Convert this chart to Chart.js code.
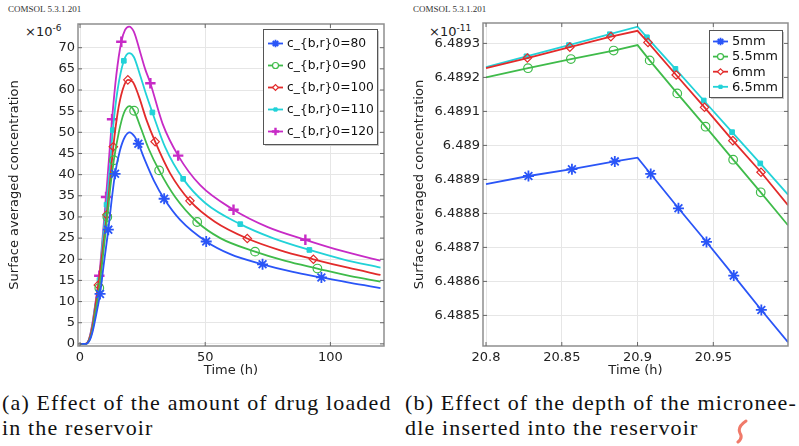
<!DOCTYPE html>
<html>
<head>
<meta charset="utf-8">
<script src="https://cdn.jsdelivr.net/npm/chart.js@4/dist/chart.umd.min.js"></script>
<style>
  body { margin: 0; background: #fff; width: 799px; height: 446px; position: relative; overflow: hidden; font-family: "DejaVu Sans", sans-serif; }
  canvas { position: absolute; top: 0; }
  #chartA { left: 0; }
  #chartB { left: 400px; }
  .comsol { position: absolute; top: 4px; font: 9px "Liberation Serif", serif; color: #333; }
  .exp { position: absolute; top: 23px; font: 13px "DejaVu Sans", sans-serif; color: #222; }
  .exp sup { font-size: 9px; vertical-align: 5px; }
  .cap { position: absolute; top: 390px; font: 22px "Liberation Serif", serif; letter-spacing: 1.15px; color: #111; line-height: 25px; white-space: nowrap; }
</style>
</head>
<body>
<div class="comsol" style="left:8px">COMSOL 5.3.1.201</div>
<div class="comsol" style="left:413px">COMSOL 5.3.1.201</div>
<div class="exp" style="left:25px">×10<sup>-6</sup></div>
<div class="exp" style="left:429px">×10<sup>-11</sup></div>
<canvas id="chartA" width="399" height="380"></canvas>
<canvas id="chartB" width="399" height="380"></canvas>
<div class="cap" style="left:2px">(a) Effect of the amount of drug loaded<br>in the reservoir</div>
<div class="cap" style="left:405px">(b) Effect of the depth of the micronee-<br>dle inserted into the reservoir</div>
<svg style="position:absolute;left:732px;top:418px" width="22" height="26"><path d="M14 3 Q5 9 8 15 Q11 20 6 24" stroke="#f07a6a" stroke-width="3" fill="none" stroke-linecap="round"/></svg>
<script>
// ---------- (a) amount of drug loaded: time (h) vs concentration (x1e-6) ----------
const labelsA = ['c_{b,r}0=80', 'c_{b,r}0=90', 'c_{b,r}0=100', 'c_{b,r}0=110', 'c_{b,r}0=120'];

const tA80 = [0, 2.5, 3, 4, 5, 6, 7, 9.6, 12.6, 16, 18, 19.8, 21.8, 26, 29.5, 40, 60, 85, 108, 120];
const vA80 = [0, 0, 0.2, 1, 2.8, 5.5, 8.5, 19.3, 33.8, 45.8, 49, 50, 49, 43.3, 38.6, 29.3, 21.2, 17, 14.4, 13.2];
const mtA80 = [8, 11.3, 14, 23.3, 33.6, 50.4, 72.9, 96.4];
const mvA80 = [11.8, 27, 40.2, 47.3, 34.3, 24.2, 18.8, 15.7];

const tA90 = [0, 2.5, 3, 4, 5, 6, 9.2, 12.2, 15.5, 17.5, 19.7, 24, 27.5, 38, 56, 82, 108, 120];
const vA90 = [0, 0, 0.2, 1.2, 3.3, 6.8, 21, 37.5, 50, 54.5, 56.2, 51.5, 46, 34.7, 25, 19.6, 16, 14.7];
const mtA90 = [7.7, 10.9, 13.5, 21.6, 31.6, 46.8, 69.9, 94.8];
const mvA90 = [13.2, 30, 43.4, 55.1, 41, 28.8, 21.8, 17.8];

const tA100 = [0, 2, 3, 4, 5, 6, 9, 12, 15, 17, 21, 23.5, 26.5, 36, 54, 80, 107, 120];
const vA100 = [0, 0, 0.3, 1.7, 4.3, 8.2, 22, 38.5, 54.5, 60, 62, 58.5, 53, 40.3, 28.8, 22.1, 18, 16.3];
const mtA100 = [7.3, 10.7, 13.3, 19.1, 30, 43.9, 66.8, 93.2];
const mvA100 = [13.9, 30.5, 46.6, 62.4, 47.8, 33.8, 24.9, 20];

const tA110 = [0, 2, 3, 4, 5, 6, 9, 11.9, 15, 19.6, 21.5, 24, 26.5, 34, 50, 77, 105, 120];
const vA110 = [0, 0, 0.3, 1.8, 4.6, 8.8, 24, 41.5, 60, 68.7, 67.8, 63.5, 58.8, 46.5, 33.3, 25, 20, 18];
const mtA110 = [7.8, 10.6, 13.1, 17.5, 28.9, 41.2, 64, 91.6];
const mvA110 = [15.1, 32.9, 50.5, 66.9, 54.7, 39, 28.3, 22.2];

const tA120 = [0, 2, 3, 4, 5, 6, 9, 11.6, 14.5, 18, 19.6, 21.5, 24, 26, 33, 48, 75, 105, 120];
const vA120 = [0, 0, 0.3, 2, 5, 9, 25, 44, 63.5, 74.2, 75, 73.8, 69, 65, 52, 37.5, 27.6, 21.9, 19.7];
const mtA120 = [7.7, 10.4, 12.8, 16.5, 28.1, 39.2, 61.3, 90];
const mvA120 = [16.1, 34.7, 53.1, 71.4, 61.6, 44.5, 31.7, 24.6];

const xTicksA = [0, 50, 100];
const yTicksA = [0, 5, 10, 15, 20, 25, 30, 35, 40, 45, 50, 55, 60, 65, 70];

// ---------- (b) depth of the microneedle: time (h) vs concentration (x1e-11) ----------
const labelsB = ['5mm', '5.5mm', '6mm', '6.5mm'];

const tB5 = [20.8, 20.9, 20.9993];
const vB5 = [6.488886, 6.488964, 6.488421];
const mtB5 = [20.828, 20.8567, 20.885, 20.9087, 20.927, 20.9455, 20.9635, 20.9817];
const mvB5 = [6.48891, 6.48893, 6.488953, 6.488916, 6.488815, 6.488716, 6.488617, 6.488516];

const tB55 = [20.8, 20.9, 20.9993];
const vB55 = [6.4892, 6.489295, 6.488765];
const mtB55 = [20.8277, 20.856, 20.8842, 20.908, 20.9262, 20.9449, 20.9631, 20.9813];
const mvB55 = [6.489227, 6.489254, 6.489279, 6.48925, 6.489153, 6.489055, 6.488958, 6.488862];

const tB6 = [20.8, 20.9, 20.9993];
const vB6 = [6.489227, 6.489337, 6.488824];
const mtB6 = [20.8273, 20.8553, 20.8824, 20.9069, 20.9255, 20.9442, 20.9629, 20.9815];
const mvB6 = [6.489257, 6.489289, 6.48932, 6.489303, 6.489207, 6.489112, 6.489014, 6.488921];

const tB65 = [20.8, 20.9, 20.9993];
const vB65 = [6.48923, 6.489349, 6.488855];
const mtB65 = [20.8267, 20.8547, 20.8817, 20.9062, 20.925, 20.9437, 20.9624, 20.981];
const mvB65 = [6.489262, 6.489295, 6.489327, 6.489318, 6.489225, 6.489132, 6.489039, 6.488947];

const xTicksB = [20.8, 20.85, 20.9, 20.95];
const xLabelsB = ['20.8', '20.85', '20.9', '20.95'];
const yTicksB = [6.4885, 6.4886, 6.4887, 6.4888, 6.4889, 6.489, 6.4891, 6.4892, 6.4893];
const yLabelsB = ['6.4885', '6.4886', '6.4887', '6.4888', '6.4889', '6.489', '6.4891', '6.4892', '6.4893'];

// ---------- styles ----------
const colors = ['#2a55f7', '#3fbb4a', '#e22b2b', '#22d2d8', '#c72bc6'];
const markers = [
  { pointStyle: 'star', radius: 5.5, borderWidth: 1.8, fill: false },
  { pointStyle: 'circle', radius: 4.3, borderWidth: 1.2, fill: false },
  { pointStyle: 'rectRot', radius: 4.2, borderWidth: 1.2, fill: false },
  { pointStyle: 'rect', radius: 3.3, borderWidth: 1, fill: true },
  { pointStyle: 'cross', radius: 5.2, borderWidth: 2.4, fill: false }
];

function pts(t, v) {
  return t.map((x, i) => ({ x: x, y: v[i] }));
}
function merged(t, v, mt, mv) {
  return pts(t, v).concat(pts(mt, mv)).sort((a, b) => a.x - b.x);
}

function buildSets(list, smooth) {
  const sets = [];
  list.forEach((s, i) => {
    sets.push({
      label: s.label,
      data: merged(s.t, s.v, s.mt, s.mv),
      borderColor: colors[i],
      borderWidth: 1.8,
      pointRadius: 0,
      fill: false,
      cubicInterpolationMode: smooth ? 'monotone' : 'default',
      tension: 0
    });
    const m = markers[i];
    sets.push({
      label: s.label,
      isMarker: true,
      markerIdx: i,
      data: pts(s.mt, s.mv),
      showLine: false,
      borderColor: colors[i],
      backgroundColor: m.fill ? colors[i] : 'rgba(0,0,0,0)',
      pointStyle: m.pointStyle,
      pointRadius: m.radius,
      pointBorderWidth: m.borderWidth
    });
  });
  return sets;
}

// frame with inward ticks, like the COMSOL box
const framePlugin = {
  id: 'frame',
  afterDraw(chart) {
    const { ctx, chartArea: a, scales } = chart;
    ctx.save();
    ctx.strokeStyle = '#8e8e8e';
    ctx.lineWidth = 1.5;
    ctx.strokeRect(a.left, a.top, a.right - a.left, a.bottom - a.top);
    ctx.lineWidth = 1;
    ctx.strokeStyle = '#666';
    ctx.beginPath();
    scales.x.ticks.forEach(tk => {
      const px = scales.x.getPixelForValue(tk.value);
      ctx.moveTo(px, a.bottom); ctx.lineTo(px, a.bottom - 4);
      ctx.moveTo(px, a.top); ctx.lineTo(px, a.top + 4);
    });
    scales.y.ticks.forEach(tk => {
      const py = scales.y.getPixelForValue(tk.value);
      ctx.moveTo(a.left, py); ctx.lineTo(a.left + 4, py);
      ctx.moveTo(a.right, py); ctx.lineTo(a.right - 4, py);
    });
    ctx.stroke();
    ctx.restore();
  }
};

// boxed legend inside the plot, top right
const legendPlugin = {
  id: 'boxLegend',
  afterDraw(chart, args, o) {
    const { ctx, chartArea: a } = chart;
    const x0 = a.right - o.dx - o.w;
    const y0 = a.top + o.dy;
    ctx.save();
    ctx.fillStyle = '#c8c8c8';
    ctx.fillRect(x0 + 2, y0 + 2, o.w, o.h);
    ctx.fillStyle = '#fff';
    ctx.fillRect(x0, y0, o.w, o.h);
    ctx.strokeStyle = '#555';
    ctx.lineWidth = 1;
    ctx.strokeRect(x0 + 0.5, y0 + 0.5, o.w, o.h);
    const items = chart.data.datasets.filter(d => d.isMarker);
    ctx.font = o.font + 'px "DejaVu Sans", sans-serif';
    ctx.textBaseline = 'middle';
    items.forEach((d, i) => {
      const y = y0 + o.rowTop + i * o.rowStep;
      const lx = x0 + o.inset;
      ctx.strokeStyle = d.borderColor;
      ctx.lineWidth = 1.8;
      ctx.beginPath();
      ctx.moveTo(lx, y); ctx.lineTo(lx + o.len, y);
      ctx.stroke();
      const m = markers[d.markerIdx];
      ctx.fillStyle = m.fill ? d.borderColor : '#fff';
      ctx.lineWidth = m.borderWidth;
      Chart.helpers.drawPoint(ctx, { pointStyle: m.pointStyle, radius: m.radius * 0.7, borderWidth: m.borderWidth, rotation: 0 }, lx + o.len / 2, y);
      ctx.fillStyle = '#111';
      ctx.fillText(d.label, lx + o.len + o.gap, y + 0.5);
    });
    ctx.restore();
  }
};

const tickFont = { family: '"DejaVu Sans", sans-serif', size: 13 };
const gridCol = '#e6e6e6';

function makeChart(id, sets, cfg) {
  return new Chart(document.getElementById(id), {
    type: 'line',
    data: { datasets: sets },
    plugins: [framePlugin, legendPlugin],
    options: {
      responsive: false,
      animation: false,
      devicePixelRatio: 1,
      layout: { padding: { top: cfg.padTop, right: cfg.padRight, left: 0, bottom: 0 } },
      plugins: { legend: { display: false }, tooltip: { enabled: false }, boxLegend: cfg.legend },
      scales: {
        x: {
          type: 'linear',
          min: cfg.xMin, max: cfg.xMax,
          afterBuildTicks: s => { s.ticks = cfg.xTicks.map(v => ({ value: v })); },
          afterFit: s => { s.height = cfg.xHeight; },
          grid: { color: gridCol, drawTicks: false },
          border: { display: false },
          ticks: { font: tickFont, color: '#222', padding: 4, maxRotation: 0, autoSkip: false,
                   callback: (v, i) => cfg.xLabels[i] },
          title: { display: true, text: 'Time (h)', font: tickFont, color: '#222', padding: { top: 0, bottom: 1.5 } }
        },
        y: {
          min: cfg.yMin, max: cfg.yMax,
          afterBuildTicks: s => { s.ticks = cfg.yTicks.map(v => ({ value: v })); },
          afterFit: s => { s.width = cfg.yWidth; },
          grid: { color: gridCol, drawTicks: false },
          border: { display: false },
          ticks: { font: tickFont, color: '#222', padding: 3, autoSkip: false,
                   callback: (v, i) => cfg.yLabels[i] },
          title: { display: true, text: 'Surface averaged concentration', font: tickFont, color: '#222',
                   padding: { top: cfg.yTitlePad, bottom: 0 } }
        }
      }
    }
  });
}

const setsA = buildSets([
  { label: labelsA[0], t: tA80, v: vA80, mt: mtA80, mv: mvA80 },
  { label: labelsA[1], t: tA90, v: vA90, mt: mtA90, mv: mvA90 },
  { label: labelsA[2], t: tA100, v: vA100, mt: mtA100, mv: mvA100 },
  { label: labelsA[3], t: tA110, v: vA110, mt: mtA110, mv: mvA110 },
  { label: labelsA[4], t: tA120, v: vA120, mt: mtA120, mv: mvA120 }
], true);

const setsB = buildSets([
  { label: labelsB[0], t: tB5, v: vB5, mt: mtB5, mv: mvB5 },
  { label: labelsB[1], t: tB55, v: vB55, mt: mtB55, mv: mvB55 },
  { label: labelsB[2], t: tB6, v: vB6, mt: mtB6, mv: mvB6 },
  { label: labelsB[3], t: tB65, v: vB65, mt: mtB65, mv: mvB65 }
], false);

makeChart('chartA', setsA, {
  padTop: 24, padRight: 15, xHeight: 34, yWidth: 78, yTitlePad: 7,
  xMin: -0.8, xMax: 121.4, yMin: -0.5, yMax: 75.6,
  xTicks: xTicksA, xLabels: xTicksA.map(String),
  yTicks: yTicksA, yLabels: yTicksA.map(String),
  legend: { w: 114, h: 115, dx: 7, dy: 5, rowTop: 14.5, rowStep: 22, inset: 5, len: 15, gap: 4, font: 12.3 }
});

makeChart('chartB', setsB, {
  padTop: 23, padRight: 11, xHeight: 34, yWidth: 83, yTitlePad: 12,
  xMin: 20.798, xMax: 20.9993, yMin: 6.48841, yMax: 6.48936,
  xTicks: xTicksB, xLabels: xLabelsB,
  yTicks: yTicksB, yLabels: yLabelsB,
  legend: { w: 73, h: 67, dx: 6, dy: 7, rowTop: 11.5, rowStep: 15.1, inset: 4, len: 15, gap: 4, font: 13 }
});
</script>
</body>
</html>
